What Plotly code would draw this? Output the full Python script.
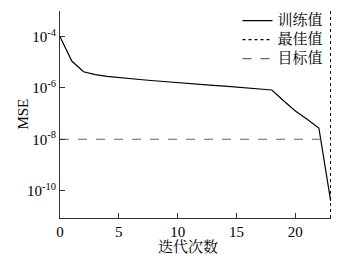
import plotly.graph_objects as go

epochs = list(range(0, 24))
train_log = [-4.0, -4.95, -5.37, -5.48, -5.55, -5.6, -5.64, -5.68, -5.72, -5.76,
             -5.8, -5.83, -5.86, -5.9, -5.93, -5.97, -6.01, -6.05, -6.08,
             -6.5, -6.9, -7.22, -7.56, -10.4]
train_mse = [10 ** v for v in train_log]
best_epoch = 23
goal = 1e-8
y_lo, y_hi = -11.07, -3.0
names = ["训练值", "最佳值", "目标值"]

serif = "Liberation Serif, Noto Serif CJK SC, Noto Sans CJK SC, serif"
axcol = "#333333"


def lg(s):
    return '<span style="font-size:15px">' + s + '</span>'


fig = go.Figure()
fig.add_trace(go.Scatter(x=epochs, y=train_mse, mode="lines", name=lg(names[0]),
                         line=dict(color="black", width=1.2)))
fig.add_trace(go.Scatter(x=[best_epoch, best_epoch], y=[10 ** y_lo, 10 ** y_hi], mode="lines",
                         name=lg(names[1]), line=dict(color="black", width=1.2, dash="dot")))
fig.add_trace(go.Scatter(x=[0, best_epoch], y=[goal, goal], mode="lines", name=lg(names[2]),
                         line=dict(color="#666666", width=1.2, dash="dash")))

fig.update_layout(
    width=364, height=261,
    margin=dict(l=60, r=33, t=6, b=43),
    paper_bgcolor="white", plot_bgcolor="white",
    font=dict(family=serif, size=15, color="black"),
    showlegend=True,
    legend=dict(x=0.655, y=1.024, xanchor="left", yanchor="top",
                bgcolor="rgba(0,0,0,0)", itemwidth=30, tracegroupgap=0,
                font=dict(size=12)),
    xaxis=dict(range=[0, 23.03], tickvals=[0, 5, 10, 15, 20], ticks="inside", ticklen=5,
               tickcolor=axcol, showline=True, linecolor=axcol, linewidth=1,
               showgrid=False, zeroline=False, automargin=False,
               tickfont=dict(size=15)),
    yaxis=dict(type="log", range=[y_lo, y_hi],
               tickvals=[1e-10, 1e-8, 1e-6, 1e-4, 1e-3],
               ticktext=["10<sup>-10</sup>", "10<sup>-8</sup>", "10<sup>-6</sup>", "10<sup>-4</sup>", ""],
               ticks="inside", ticklen=5, tickcolor=axcol, showline=True, linecolor=axcol,
               linewidth=1, showgrid=False, zeroline=False, automargin=False,
               tickfont=dict(size=15)),
    annotations=[
        dict(text="迭代次数", xref="paper", yref="paper", x=0.472, y=-0.142,
             xanchor="center", yanchor="middle", showarrow=False, font=dict(size=15)),
        dict(text="MSE", xref="paper", yref="paper", x=-0.14, y=0.5, textangle=-90,
             xanchor="center", yanchor="middle", showarrow=False, font=dict(size=15)),
    ],
)
fig.write_html("out.html", config={"displayModeBar": False},
               post_script="document.body.style.margin='0';document.body.style.overflow='hidden';")
